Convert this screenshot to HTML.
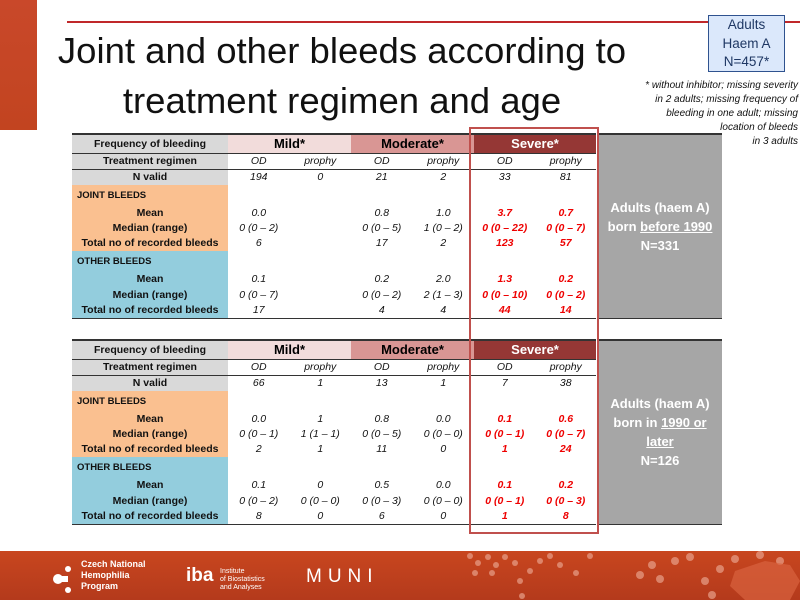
<!DOCTYPE html>
<html><head><meta charset="utf-8"><style>
body{margin:0;width:800px;height:600px;position:relative;overflow:hidden;background:#fff;font-family:"Liberation Sans",sans-serif}
.abs{position:absolute}
table{position:absolute;left:72px;border-collapse:collapse;table-layout:fixed;width:650px;font-size:10.5px;border-top:2px solid #333;border-bottom:1.5px solid #333}
td{padding:0;text-align:center;white-space:nowrap;overflow:hidden}
td.l{font-weight:bold;background:#d9d9d9;color:#111}
td.lj{font-weight:bold;background:#fac090;color:#111}
td.lo{font-weight:bold;background:#93cddd;color:#111}
td.sec{text-align:left;padding-left:5px;font-size:9.5px}
td.d{font-style:italic;color:#111}
td.r{font-style:italic;font-weight:bold;color:#e00}
tr.b td{border-bottom:1px solid #333}
td.g{background:#a6a6a6;color:#fff;font-weight:bold;font-size:13px;line-height:19px;border-left:2px solid #fff;border-bottom:none}
.h1{background:#f2dcdb;font-size:13px;font-weight:bold}
.h2{background:#d99694;font-size:13px;font-weight:bold}
.h3{background:#953735;font-size:13px;font-weight:bold;color:#fff}
</style></head><body>
<div class="abs" style="left:0;top:0;width:37px;height:130px;background:linear-gradient(#c9482a,#c24420)"></div>
<div class="abs" style="left:67px;top:21px;width:733px;height:2px;background:#c0282a"></div>
<div class="abs" style="left:2px;top:26px;width:680px;text-align:center;font-size:36.5px;line-height:50px;color:#111">Joint and other bleeds according to<br>treatment regimen and age</div>
<div class="abs" style="left:708px;top:15px;width:75px;height:55px;background:#dbe8fb;border:1px solid #2f528f;text-align:center;font-size:13.5px;line-height:18.5px;color:#1f3864">Adults<br>Haem A<br>N=457*</div>
<div class="abs" style="right:2px;top:79px;width:240px;text-align:right;font-size:10px;font-style:italic;line-height:14px;color:#111">* without inhibitor; missing severity<br>in 2 adults; missing frequency of<br>bleeding in one adult; missing<br>location of bleeds<br>in 3 adults</div>

<table style="top:133px">
<colgroup><col style="width:156px"><col style="width:61.5px"><col style="width:61.5px"><col style="width:61.5px"><col style="width:61.5px"><col style="width:61.5px"><col style="width:61.5px"><col style="width:125px"></colgroup>
<tr class="b" style="height:19px"><td class="l">Frequency of bleeding</td><td colspan="2" class="h1">Mild*</td><td colspan="2" class="h2">Moderate*</td><td colspan="2" class="h3">Severe*</td><td class="g" rowspan="11">Adults (haem A)<br>born <u>before 1990</u><br>N=331</td></tr>
<tr class="b" style="height:16px"><td class="l">Treatment regimen</td><td class="d">OD</td><td class="d">prophy</td><td class="d">OD</td><td class="d">prophy</td><td class="d">OD</td><td class="d">prophy</td></tr>
<tr style="height:16px"><td class="l">N valid</td><td class="d">194</td><td class="d">0</td><td class="d">21</td><td class="d">2</td><td class="d">33</td><td class="d">81</td></tr>
<tr style="height:20px"><td class="lj sec">JOINT BLEEDS</td><td></td><td></td><td></td><td></td><td></td><td></td></tr>
<tr style="height:15px"><td class="lj">Mean</td><td class="d">0.0</td><td></td><td class="d">0.8</td><td class="d">1.0</td><td class="r">3.7</td><td class="r">0.7</td></tr>
<tr style="height:15px"><td class="lj">Median (range)</td><td class="d">0 (0 – 2)</td><td></td><td class="d">0 (0 – 5)</td><td class="d">1 (0 – 2)</td><td class="r">0 (0 – 22)</td><td class="r">0 (0 – 7)</td></tr>
<tr style="height:16px"><td class="lj">Total no of recorded bleeds</td><td class="d">6</td><td></td><td class="d">17</td><td class="d">2</td><td class="r">123</td><td class="r">57</td></tr>
<tr style="height:20px"><td class="lo sec">OTHER BLEEDS</td><td></td><td></td><td></td><td></td><td></td><td></td></tr>
<tr style="height:16px"><td class="lo">Mean</td><td class="d">0.1</td><td></td><td class="d">0.2</td><td class="d">2.0</td><td class="r">1.3</td><td class="r">0.2</td></tr>
<tr style="height:15px"><td class="lo">Median (range)</td><td class="d">0 (0 – 7)</td><td></td><td class="d">0 (0 – 2)</td><td class="d">2 (1 – 3)</td><td class="r">0 (0 – 10)</td><td class="r">0 (0 – 2)</td></tr>
<tr style="height:16px"><td class="lo">Total no of recorded bleeds</td><td class="d">17</td><td></td><td class="d">4</td><td class="d">4</td><td class="r">44</td><td class="r">14</td></tr>
</table>

<table style="top:339px">
<colgroup><col style="width:156px"><col style="width:61.5px"><col style="width:61.5px"><col style="width:61.5px"><col style="width:61.5px"><col style="width:61.5px"><col style="width:61.5px"><col style="width:125px"></colgroup>
<tr class="b" style="height:19px"><td class="l">Frequency of bleeding</td><td colspan="2" class="h1">Mild*</td><td colspan="2" class="h2">Moderate*</td><td colspan="2" class="h3">Severe*</td><td class="g" rowspan="11">Adults (haem A)<br>born in <u>1990 or</u><br><u>later</u><br>N=126</td></tr>
<tr class="b" style="height:16px"><td class="l">Treatment regimen</td><td class="d">OD</td><td class="d">prophy</td><td class="d">OD</td><td class="d">prophy</td><td class="d">OD</td><td class="d">prophy</td></tr>
<tr style="height:16px"><td class="l">N valid</td><td class="d">66</td><td class="d">1</td><td class="d">13</td><td class="d">1</td><td class="d">7</td><td class="d">38</td></tr>
<tr style="height:20px"><td class="lj sec">JOINT BLEEDS</td><td></td><td></td><td></td><td></td><td></td><td></td></tr>
<tr style="height:15px"><td class="lj">Mean</td><td class="d">0.0</td><td class="d">1</td><td class="d">0.8</td><td class="d">0.0</td><td class="r">0.1</td><td class="r">0.6</td></tr>
<tr style="height:15px"><td class="lj">Median (range)</td><td class="d">0 (0 – 1)</td><td class="d">1 (1 – 1)</td><td class="d">0 (0 – 5)</td><td class="d">0 (0 – 0)</td><td class="r">0 (0 – 1)</td><td class="r">0 (0 – 7)</td></tr>
<tr style="height:16px"><td class="lj">Total no of recorded bleeds</td><td class="d">2</td><td class="d">1</td><td class="d">11</td><td class="d">0</td><td class="r">1</td><td class="r">24</td></tr>
<tr style="height:20px"><td class="lo sec">OTHER BLEEDS</td><td></td><td></td><td></td><td></td><td></td><td></td></tr>
<tr style="height:16px"><td class="lo">Mean</td><td class="d">0.1</td><td class="d">0</td><td class="d">0.5</td><td class="d">0.0</td><td class="r">0.1</td><td class="r">0.2</td></tr>
<tr style="height:15px"><td class="lo">Median (range)</td><td class="d">0 (0 – 2)</td><td class="d">0 (0 – 0)</td><td class="d">0 (0 – 3)</td><td class="d">0 (0 – 0)</td><td class="r">0 (0 – 1)</td><td class="r">0 (0 – 3)</td></tr>
<tr style="height:16px"><td class="lo">Total no of recorded bleeds</td><td class="d">8</td><td class="d">0</td><td class="d">6</td><td class="d">0</td><td class="r">1</td><td class="r">8</td></tr>
</table>

<div class="abs" style="left:469px;top:127px;width:126px;height:403px;border:2px solid #c0504d"></div>

<div class="abs" style="left:0;top:551px;width:800px;height:49px;background:linear-gradient(#c8461f,#b43a1c)"></div>
<svg class="abs" style="left:0;top:551px" width="800" height="49">
<g fill="#fff"><circle cx="58" cy="28" r="5"/><circle cx="68" cy="18" r="3"/><circle cx="68" cy="39" r="3"/><rect x="58" y="25" width="10" height="6"/></g>
<g fill="#e8a08a" opacity="0.7"><circle cx="470" cy="5" r="3"/><circle cx="478" cy="12" r="3"/><circle cx="488" cy="6" r="3"/><circle cx="496" cy="14" r="3"/><circle cx="505" cy="6" r="3"/><circle cx="475" cy="22" r="3"/><circle cx="492" cy="22" r="3"/><circle cx="520" cy="30" r="3"/><circle cx="515" cy="12" r="3"/><circle cx="530" cy="20" r="3"/><circle cx="540" cy="10" r="3"/><circle cx="550" cy="5" r="3"/><circle cx="560" cy="14" r="3"/><circle cx="576" cy="22" r="3"/><circle cx="590" cy="5" r="3"/><circle cx="522" cy="45" r="3"/>
<circle cx="640" cy="24" r="4"/><circle cx="652" cy="14" r="4"/><circle cx="660" cy="28" r="4"/><circle cx="675" cy="10" r="4"/><circle cx="690" cy="6" r="4"/><circle cx="705" cy="30" r="4"/><circle cx="720" cy="18" r="4"/><circle cx="735" cy="8" r="4"/><circle cx="760" cy="4" r="4"/><circle cx="780" cy="10" r="4"/><circle cx="712" cy="44" r="4"/></g>
<path d="M735 20 L765 10 L790 14 L800 30 L790 49 L745 49 L730 35Z" fill="#d9623f" opacity="0.7"/>
</svg>
<div class="abs" style="left:81px;top:559px;font-size:9px;line-height:11px;color:#fff;font-weight:bold">Czech National<br>Hemophilia<br>Program</div>
<div class="abs" style="left:186px;top:565px;font-size:19px;font-weight:bold;color:#fff">iba</div>
<div class="abs" style="left:220px;top:568px;font-size:7px;line-height:8px;color:#fff">Institute<br>of Biostatistics<br>and Analyses</div>
<div class="abs" style="left:306px;top:566px;font-size:19px;letter-spacing:6px;color:#fff">MUNI</div>
</body></html>
